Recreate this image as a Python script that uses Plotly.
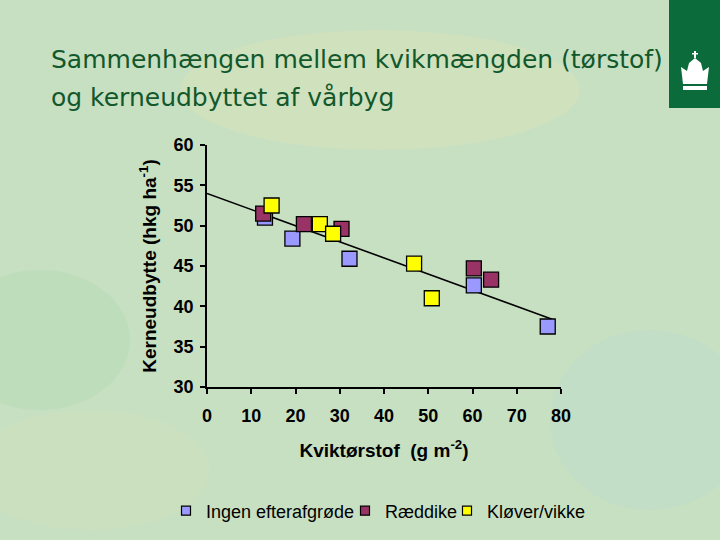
import plotly.graph_objects as go

# ---- data ----
ingen_x = [13.1, 19.3, 32.2, 60.3, 77.0]
ingen_y = [51.0, 48.4, 45.9, 42.6, 37.5]

raeddike_x = [12.7, 21.9, 30.4, 60.3, 64.2]
raeddike_y = [51.5, 50.2, 49.6, 44.7, 43.3]

klover_x = [14.6, 25.5, 28.5, 46.8, 50.8]
klover_y = [52.5, 50.2, 49.0, 45.3, 41.0]

trend_x = [0.0, 78.0]
trend_y = [54.0, 38.4]

series_names = ["Ingen efterafgrøde", "Ræddike", "Kløver/vikke"]
series_colors = ["#9999FF", "#993366", "#FFFF00"]

x_ticks = [0, 10, 20, 30, 40, 50, 60, 70, 80]
y_ticks = [30, 35, 40, 45, 50, 55, 60]

title_line1 = "Sammenhængen mellem kvikmængden (tørstof)"
title_line2 = "og kerneudbyttet af vårbyg"

# ---- layout geometry (pixels) ----
W, H = 720, 540
L, R, T, B = 207, 561, 145, 387
legend_left_px = [166, 345, 447]


def px(x):
    return (x - L) / (R - L)


def py(y):
    return (B - y) / (B - T)


fig = go.Figure()

fig.add_trace(go.Scatter(x=trend_x, y=trend_y, mode="lines",
                         line=dict(color="black", width=1.6),
                         showlegend=False, hoverinfo="skip"))

legend_ids = ["legend", "legend2", "legend3"]
for xs, ys, name, col, lg in zip([ingen_x, raeddike_x, klover_x],
                                 [ingen_y, raeddike_y, klover_y],
                                 series_names, series_colors, legend_ids):
    fig.add_trace(go.Scatter(x=xs, y=ys, mode="markers", name=name,
                             marker=dict(symbol="square", size=15, color=col,
                                         line=dict(color="black", width=1.3)),
                             showlegend=False))
    # legend-only entry with small marker
    fig.add_trace(go.Scatter(x=[None], y=[None], mode="markers", name=name,
                             marker=dict(symbol="square", size=9, color=col,
                                         line=dict(color="black", width=1.2)),
                             showlegend=True, legend=lg))

axis_font = dict(family="Liberation Sans, Arial, sans-serif", size=19, color="black")
tick_font = dict(family="Liberation Sans, Arial, sans-serif", size=18, color="black", weight="bold")

fig.update_xaxes(range=[0, 80], tickvals=x_ticks, ticks="outside", ticklen=5,
                 tickwidth=1.5, tickcolor="black", showline=True, linecolor="black",
                 linewidth=1.5, showgrid=False, zeroline=False, ticklabelstandoff=7,
                 tickfont=tick_font,
                 title=dict(text="<b>Kviktørstof  (g m<sup>-2</sup>)</b>", font=axis_font, standoff=18))
fig.update_yaxes(range=[30, 60], tickvals=y_ticks, ticks="outside", ticklen=5,
                 tickwidth=1.5, tickcolor="black", showline=True, linecolor="black",
                 linewidth=1.5, showgrid=False, zeroline=False, ticklabelstandoff=3,
                 tickfont=tick_font,
                 title=dict(text="<b>Kerneudbytte (hkg ha<sup>-1</sup>)</b>", font=axis_font, standoff=12))

shapes = []
# soft background tints
for (cx, cy, rx, ry, col) in [
    (380, 90, 200, 60, "rgba(232,226,175,0.22)"),
    (40, 340, 90, 70, "rgba(150,210,165,0.22)"),
    (650, 420, 100, 90, "rgba(175,215,215,0.22)"),
    (90, 470, 120, 60, "rgba(215,225,180,0.2)"),
]:
    shapes.append(dict(type="circle", xref="paper", yref="paper",
                       x0=px(cx - rx), x1=px(cx + rx), y0=py(cy + ry), y1=py(cy - ry),
                       fillcolor=col, line=dict(width=0), layer="below"))

# logo box
shapes.append(dict(type="rect", xref="paper", yref="paper",
                   x0=px(669), x1=px(721), y0=py(108), y1=py(-1),
                   fillcolor="#0B6B3A", line=dict(width=0)))
# crown
crown_pts = [(683, 84), (681, 67), (687, 71), (689, 63), (695, 58), (701, 63),
             (703, 71), (709, 67), (707, 84)]
path = "M " + " L ".join(f"{px(a):.4f},{py(b):.4f}" for a, b in crown_pts) + " Z"
shapes.append(dict(type="path", xref="paper", yref="paper", path=path,
                   fillcolor="white", line=dict(color="white", width=0)))
shapes.append(dict(type="rect", xref="paper", yref="paper",
                   x0=px(683), x1=px(707), y0=py(90), y1=py(86),
                   fillcolor="white", line=dict(width=0)))
shapes.append(dict(type="rect", xref="paper", yref="paper",
                   x0=px(694), x1=px(696), y0=py(58), y1=py(51),
                   fillcolor="white", line=dict(width=0)))
shapes.append(dict(type="rect", xref="paper", yref="paper",
                   x0=px(692), x1=px(698), y0=py(54.5), y1=py(53),
                   fillcolor="white", line=dict(width=0)))

title_font = dict(family="DejaVu Sans, sans-serif", size=25, color="#12582C")
annotations = [
    dict(text=title_line1, xref="paper", yref="paper", x=px(49), y=py(60),
         xanchor="left", yanchor="middle", showarrow=False, font=title_font),
    dict(text=title_line2, xref="paper", yref="paper", x=px(49), y=py(97),
         xanchor="left", yanchor="middle", showarrow=False, font=title_font),
]

legend_font = dict(family="Liberation Sans, Arial, sans-serif", size=18, color="black")
legend_layouts = {}
for lg, lx in zip(legend_ids, legend_left_px):
    legend_layouts[lg] = dict(orientation="h", xref="paper", yref="paper",
                              x=px(lx), y=py(511), xanchor="left", yanchor="middle",
                              font=legend_font, bgcolor="rgba(0,0,0,0)",
                              itemwidth=30, tracegroupgap=0)

fig.update_layout(
    width=W, height=H,
    margin=dict(l=L, r=W - R, t=T, b=H - B, autoexpand=False),
    paper_bgcolor="#C8E0C2",
    plot_bgcolor="rgba(0,0,0,0)",
    shapes=shapes,
    annotations=annotations,
    **legend_layouts,
)

fig.write_html("out.html", config={"displayModeBar": False},
               post_script="document.body.style.margin='0';document.body.style.overflow='hidden';")
